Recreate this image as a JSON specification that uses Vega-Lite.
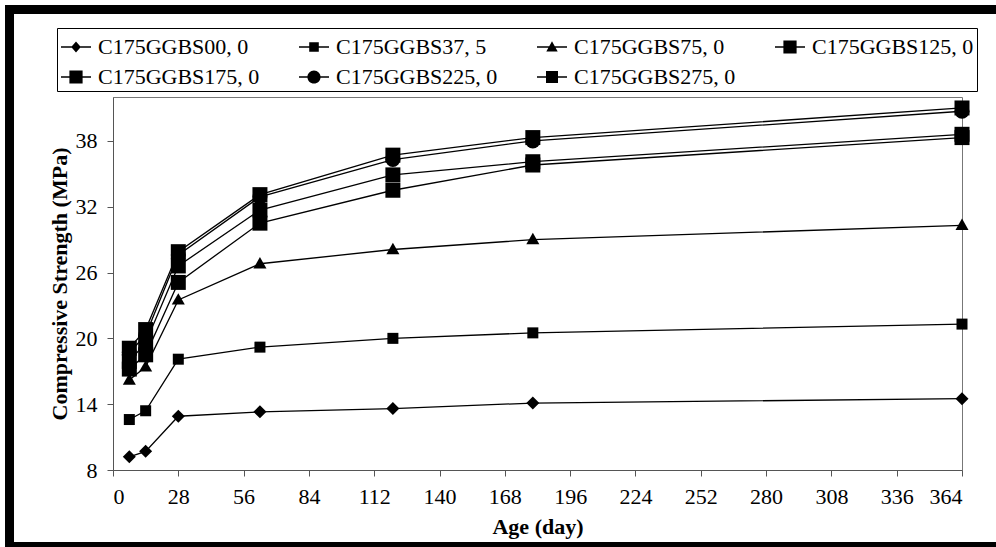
{
  "$schema": "https://vega.github.io/schema/vega-lite/v6.json",
  "width": 849,
  "height": 373,
  "autosize": {"type": "none"},
  "padding": {"left": 113, "top": 97, "right": 34, "bottom": 77},
  "background": "white",
  "config": {
    "font": "Liberation Serif",
    "view": {"stroke": "#777", "strokeWidth": 1},
    "axis": {
      "domainColor": "#555",
      "tickColor": "#555",
      "labelFont": "Liberation Serif",
      "labelFontSize": 22,
      "labelColor": "black",
      "titleFont": "Liberation Serif",
      "titleFontSize": 22,
      "titleFontWeight": "bold",
      "titleColor": "black",
      "grid": false,
      "tickSize": 6,
      "labelPadding": 10
    }
  },
  "data": {
    "values": [
      {"series": "C175GGBS00, 0", "age": 7, "strength": 9.2},
      {"series": "C175GGBS00, 0", "age": 14, "strength": 9.7},
      {"series": "C175GGBS00, 0", "age": 28, "strength": 12.9},
      {"series": "C175GGBS00, 0", "age": 63, "strength": 13.3},
      {"series": "C175GGBS00, 0", "age": 120, "strength": 13.6},
      {"series": "C175GGBS00, 0", "age": 180, "strength": 14.1},
      {"series": "C175GGBS00, 0", "age": 364, "strength": 14.5},
      {"series": "C175GGBS37, 5", "age": 7, "strength": 12.6},
      {"series": "C175GGBS37, 5", "age": 14, "strength": 13.4},
      {"series": "C175GGBS37, 5", "age": 28, "strength": 18.1},
      {"series": "C175GGBS37, 5", "age": 63, "strength": 19.2},
      {"series": "C175GGBS37, 5", "age": 120, "strength": 20.0},
      {"series": "C175GGBS37, 5", "age": 180, "strength": 20.5},
      {"series": "C175GGBS37, 5", "age": 364, "strength": 21.3},
      {"series": "C175GGBS75, 0", "age": 7, "strength": 16.2},
      {"series": "C175GGBS75, 0", "age": 14, "strength": 17.4},
      {"series": "C175GGBS75, 0", "age": 28, "strength": 23.5},
      {"series": "C175GGBS75, 0", "age": 63, "strength": 26.8},
      {"series": "C175GGBS75, 0", "age": 120, "strength": 28.1},
      {"series": "C175GGBS75, 0", "age": 180, "strength": 29.0},
      {"series": "C175GGBS75, 0", "age": 364, "strength": 30.3},
      {"series": "C175GGBS125, 0", "age": 7, "strength": 17.2},
      {"series": "C175GGBS125, 0", "age": 14, "strength": 18.5},
      {"series": "C175GGBS125, 0", "age": 28, "strength": 25.1},
      {"series": "C175GGBS125, 0", "age": 63, "strength": 30.5},
      {"series": "C175GGBS125, 0", "age": 120, "strength": 33.5},
      {"series": "C175GGBS125, 0", "age": 180, "strength": 35.8},
      {"series": "C175GGBS125, 0", "age": 364, "strength": 38.3},
      {"series": "C175GGBS175, 0", "age": 7, "strength": 17.9},
      {"series": "C175GGBS175, 0", "age": 14, "strength": 19.6},
      {"series": "C175GGBS175, 0", "age": 28, "strength": 26.6},
      {"series": "C175GGBS175, 0", "age": 63, "strength": 31.7},
      {"series": "C175GGBS175, 0", "age": 120, "strength": 34.9},
      {"series": "C175GGBS175, 0", "age": 180, "strength": 36.1},
      {"series": "C175GGBS175, 0", "age": 364, "strength": 38.6},
      {"series": "C175GGBS225, 0", "age": 7, "strength": 18.7},
      {"series": "C175GGBS225, 0", "age": 14, "strength": 20.3},
      {"series": "C175GGBS225, 0", "age": 28, "strength": 27.6},
      {"series": "C175GGBS225, 0", "age": 63, "strength": 32.9},
      {"series": "C175GGBS225, 0", "age": 120, "strength": 36.3},
      {"series": "C175GGBS225, 0", "age": 180, "strength": 38.0},
      {"series": "C175GGBS225, 0", "age": 364, "strength": 40.7},
      {"series": "C175GGBS275, 0", "age": 7, "strength": 19.1},
      {"series": "C175GGBS275, 0", "age": 14, "strength": 20.8},
      {"series": "C175GGBS275, 0", "age": 28, "strength": 27.9},
      {"series": "C175GGBS275, 0", "age": 63, "strength": 33.1},
      {"series": "C175GGBS275, 0", "age": 120, "strength": 36.7},
      {"series": "C175GGBS275, 0", "age": 180, "strength": 38.3},
      {"series": "C175GGBS275, 0", "age": 364, "strength": 41.0}
    ]
  },
  "layer": [
    {
      "mark": {"type": "line", "color": "black", "strokeWidth": 1.3},
      "encoding": {
        "x": {
          "field": "age", "type": "quantitative",
          "scale": {"domain": [0, 364], "nice": false, "zero": false},
          "axis": {"title": "Age (day)", "values": [0, 28, 56, 84, 112, 140, 168, 196, 224, 252, 280, 308, 336, 364], "titlePadding": 9}
        },
        "y": {
          "field": "strength", "type": "quantitative",
          "scale": {"domain": [8, 42], "nice": false, "zero": false},
          "axis": {"title": "Compressive Strength (MPa)", "values": [8, 14, 20, 26, 32, 38], "titlePadding": 4}
        },
        "detail": {"field": "series", "type": "nominal"},
        "order": {"field": "age", "type": "quantitative"}
      }
    },
    {
      "transform": [{"filter": "datum.series === 'C175GGBS00, 0'"}],
      "mark": {"type": "point", "filled": true, "color": "black", "opacity": 1, "shape": "diamond", "size": 169},
      "encoding": {"x": {"field": "age", "type": "quantitative"}, "y": {"field": "strength", "type": "quantitative"}}
    },
    {
      "transform": [{"filter": "datum.series === 'C175GGBS37, 5'"}],
      "mark": {"type": "point", "filled": true, "color": "black", "opacity": 1, "shape": "square", "size": 121},
      "encoding": {"x": {"field": "age", "type": "quantitative"}, "y": {"field": "strength", "type": "quantitative"}}
    },
    {
      "transform": [{"filter": "datum.series === 'C175GGBS75, 0'"}],
      "mark": {"type": "point", "filled": true, "color": "black", "opacity": 1, "shape": "M0,-0.9L0.87,0.62H-0.87Z", "size": 225},
      "encoding": {"x": {"field": "age", "type": "quantitative"}, "y": {"field": "strength", "type": "quantitative"}}
    },
    {
      "transform": [{"filter": "datum.series === 'C175GGBS125, 0' || datum.series === 'C175GGBS175, 0' || datum.series === 'C175GGBS275, 0'"}],
      "mark": {"type": "point", "filled": true, "color": "black", "opacity": 1, "shape": "square", "size": 225},
      "encoding": {"x": {"field": "age", "type": "quantitative"}, "y": {"field": "strength", "type": "quantitative"}}
    },
    {
      "transform": [{"filter": "datum.series === 'C175GGBS225, 0'"}],
      "mark": {"type": "point", "filled": true, "color": "black", "opacity": 1, "shape": "circle", "size": 225},
      "encoding": {"x": {"field": "age", "type": "quantitative"}, "y": {"field": "strength", "type": "quantitative"}}
    },
    {
      "transform": [{"filter": "datum.age > 9999"}],
      "mark": {"type": "point", "filled": true, "color": "black", "opacity": 1, "size": 900},
      "encoding": {
        "x": {"field": "age", "type": "quantitative"},
        "y": {"field": "strength", "type": "quantitative"},
        "shape": {
          "field": "series", "type": "nominal",
          "scale": {
            "domain": ["C175GGBS00, 0", "C175GGBS37, 5", "C175GGBS75, 0", "C175GGBS125, 0", "C175GGBS175, 0", "C175GGBS225, 0", "C175GGBS275, 0"],
            "range": [
              "M-1,-0.05H1V0.05H-1ZM0,-0.36L0.32,0L0,0.36L-0.32,0Z",
              "M-1,-0.05H1V0.05H-1ZM-0.32,-0.32H0.32V0.32H-0.32Z",
              "M-1,-0.05H1V0.05H-1ZM0,-0.38L0.38,0.3H-0.38Z",
              "M-1,-0.05H1V0.05H-1ZM-0.44,-0.44H0.44V0.44H-0.44Z",
              "M-1,-0.05H1V0.05H-1ZM-0.44,-0.44H0.44V0.44H-0.44Z",
              "M-1,-0.05H1V0.05H-1ZM-0.44,0A0.44,0.44,0,1,1,0.44,0A0.44,0.44,0,1,1,-0.44,0Z",
              "M-1,-0.05H1V0.05H-1ZM-0.4,-0.4H0.4V0.4H-0.4Z"
            ]
          },
          "legend": {
            "title": null,
            "orient": "none",
            "legendX": -56,
            "legendY": -69,
            "direction": "horizontal",
            "columns": 4,
            "gridAlign": "each",
            "columnPadding": 36,
            "rowPadding": 3,
            "padding": 3,
            "symbolSize": 900,
            "labelFont": "Liberation Serif",
            "labelFontSize": 22,
            "labelColor": "black",
            "labelOffset": 6,
            "labelLimit": 400,
            "strokeColor": "black",
            "fillColor": "white",
            "encode": {
              "symbols": {"update": {"fill": {"value": "black"}, "opacity": {"value": 1}}},
              "legend": {"update": {"strokeWidth": {"value": 1.5}}}
            }
          }
        }
      }
    },
    {
      "data": {"values": [{}]},
      "mark": {"type": "rect", "fill": "white", "fillOpacity": 0, "stroke": "black", "strokeWidth": 9},
      "encoding": {
        "x": {"datum": -44.37, "type": "quantitative"},
        "x2": {"datum": 400},
        "y": {"datum": 49.98, "type": "quantitative"},
        "y2": {"datum": 1.03}
      }
    }
  ]
}
